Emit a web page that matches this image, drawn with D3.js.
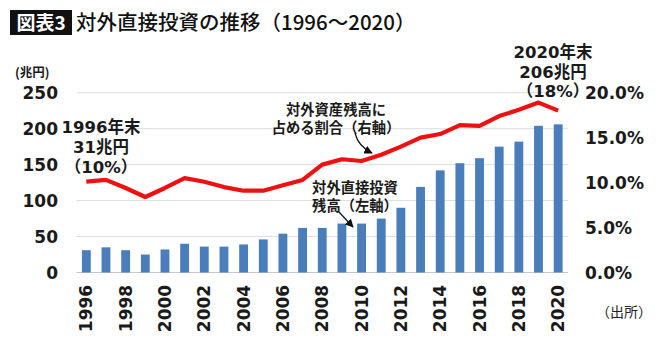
<!DOCTYPE html>
<html><head><meta charset="utf-8">
<script src="https://cdn.jsdelivr.net/npm/d3@7"></script>
<style>body{margin:0;background:#fff;}svg{display:block;}</style>
</head><body>
<svg id="c" width="670" height="350"></svg>
<script>
const years = d3.range(1996, 2021);
const fdiBalance = [31,35,31,25,32,40,36,36,39,46,54,62,62,68,68,75,90,119,142,152,159,175,182,204,206];
const shareOfAssets = [10.1,10.3,9.4,8.4,9.4,10.5,10.1,9.5,9.1,9.1,9.7,10.3,12.0,12.6,12.4,13.1,14.0,15.0,15.4,16.4,16.3,17.4,18.1,18.9,18.0];
const leftTicks = [0,50,100,150,200,250];
const rightTicks = [0,5,10,15,20];
const xTickYears = years.filter(y => y % 2 === 0);

const svg = d3.select("#c");
const jp = "'Noto Sans CJK JP','Noto Sans',sans-serif";
const mix = "'DejaVu Sans','Noto Sans CJK JP',sans-serif";
const num = "'DejaVu Sans',sans-serif";

const x = d3.scaleBand().domain(years).range([76.5, 568]).paddingInner(0.55).paddingOuter(0.275);
const yL = d3.scaleLinear().domain([0,250]).range([272.5, 92.7]);
const yR = d3.scaleLinear().domain([0,20]).range([272.5, 92.7]);

// gridlines
svg.append("g").selectAll("line").data(leftTicks).join("line")
  .attr("x1", 76.5).attr("x2", 568)
  .attr("y1", d => yL(d)).attr("y2", d => yL(d))
  .attr("stroke", d => d === 0 ? "#c8c8c8" : "#dedede").attr("stroke-width", 1);

// bars
svg.append("g").selectAll("rect").data(years).join("rect")
  .attr("x", d => x(d)).attr("width", x.bandwidth())
  .attr("y", (d,i) => yL(fdiBalance[i])).attr("height", (d,i) => yL(0) - yL(fdiBalance[i]))
  .attr("fill", "#4a7ebb");

// line
const line = d3.line().x((d,i) => x(years[i]) + x.bandwidth()/2).y(d => yR(d));
svg.append("path").datum(shareOfAssets).attr("d", line)
  .attr("fill", "none").attr("stroke", "#ee1111").attr("stroke-width", 4.2).attr("stroke-linejoin", "round");

// left axis
const axL = svg.append("g").attr("transform", "translate(58,0)")
  .call(d3.axisLeft(yL).tickValues(leftTicks).tickSize(0).tickPadding(0));
axL.select(".domain").remove();
axL.selectAll("text").attr("font-family", num).attr("font-weight", "bold").attr("font-size", 17).attr("fill", "#1a1a1a").attr("dy", "0.35em");

// right axis
const axR = svg.append("g").attr("transform", "translate(585,0)")
  .call(d3.axisRight(yR).tickValues(rightTicks).tickSize(0).tickPadding(0).tickFormat(d => d.toFixed(1) + "%"));
axR.select(".domain").remove();
axR.selectAll("text").attr("font-family", num).attr("font-weight", "bold").attr("font-size", 17).attr("fill", "#1a1a1a").attr("dy", "0.35em");

// bottom axis
const axB = svg.append("g").attr("transform", "translate(0,284)")
  .call(d3.axisBottom(x).tickValues(xTickYears).tickSize(0).tickPadding(0));
axB.select(".domain").remove();
axB.selectAll("text").attr("font-family", num).attr("font-weight", "bold").attr("font-size", 17).attr("fill", "#1a1a1a")
  .attr("transform", "rotate(-90)").attr("text-anchor", "end").attr("x", 0).attr("y", 0).attr("dx", "-0.05em").attr("dy", "0.36em");

// unit
svg.append("text").attr("x", 15).attr("y", 77).text("(兆円)")
  .attr("font-family", jp).attr("font-weight", "bold").attr("font-size", 12.5).attr("fill", "#1a1a1a");

// title
svg.append("rect").attr("x", 10).attr("y", 10).attr("width", 62).attr("height", 25).attr("fill", "#111");
svg.append("text").attr("x", 41).attr("y", 29.5).attr("text-anchor", "middle").text("図表3")
  .attr("font-family", jp).attr("font-weight", "bold").attr("font-size", 19).attr("fill", "#fff");
svg.append("text").attr("x", 76).attr("y", 29.5).text("対外直接投資の推移（1996〜2020）")
  .attr("font-family", jp).attr("font-weight", 500).attr("font-size", 20.5).attr("fill", "#111");

// annotations
function block(lines, cx, y0, lh, fs) {
  const t = svg.append("text").attr("font-family", mix).attr("font-weight", "bold")
    .attr("font-size", fs).attr("fill", "#1a1a1a").attr("text-anchor", "middle");
  lines.forEach((s, i) => t.append("tspan").attr("x", cx).attr("y", y0 + i*lh).text(s));
}
block(["1996年末","31兆円","（10%）"], 101, 133, 20, 16.5);
block(["2020年末","206兆円","（18%）"], 553, 58, 19.5, 16.5);
block(["対外資産残高に","占める割合（右軸）"], 336, 115, 18, 14.3);
block(["対外直接投資","残高（左軸）"], 355, 193, 18, 14.3);

// arrows
const defs = svg.append("defs");
defs.append("marker").attr("id", "ah").attr("viewBox", "0 0 10 10").attr("refX", 9).attr("refY", 5)
  .attr("markerWidth", 7).attr("markerHeight", 7).attr("orient", "auto")
  .append("path").attr("d", "M0,0L10,5L0,10z").attr("fill", "#111");
svg.append("path").attr("d", "M355,133 Q358,146 372,153").attr("fill", "none").attr("stroke", "#111").attr("stroke-width", 1.2).attr("marker-end", "url(#ah)");
svg.append("path").attr("d", "M339,212 L353,227").attr("fill", "none").attr("stroke", "#111").attr("stroke-width", 1.2).attr("marker-end", "url(#ah)");

// source
svg.append("text").attr("x", 603).attr("y", 317).text("（出所）")
  .attr("font-family", jp).attr("font-size", 14).attr("fill", "#222").attr("dx", "-0.5em");
</script>
</body></html>
